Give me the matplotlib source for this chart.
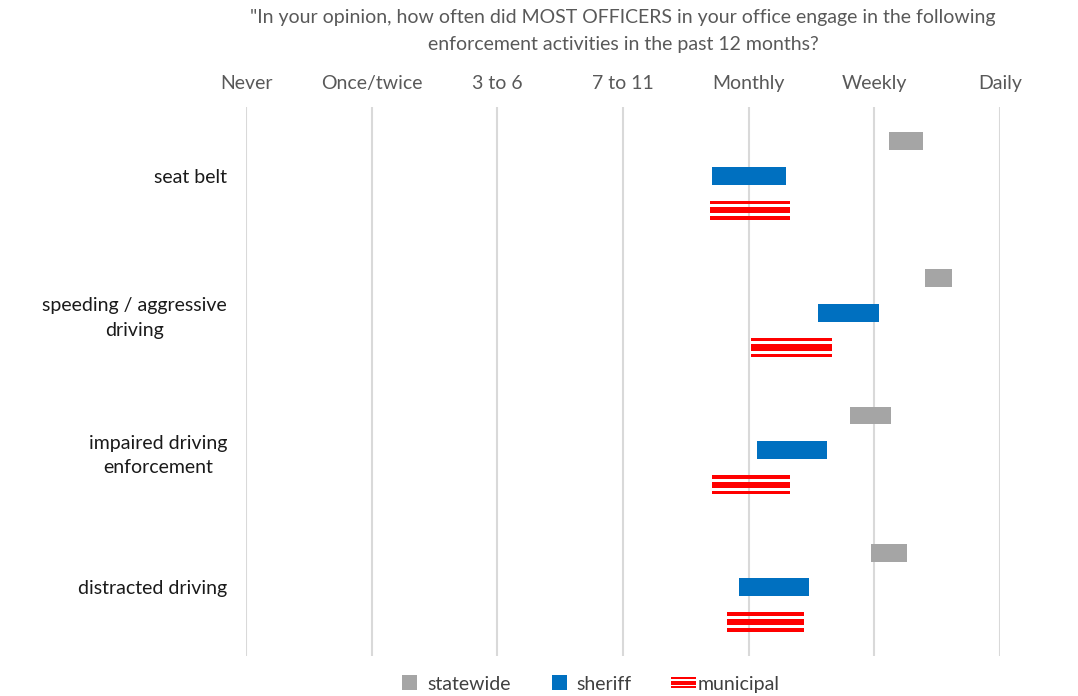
import matplotlib
matplotlib.use("Agg")
import matplotlib.pyplot as plt
from matplotlib.patches import Rectangle
from matplotlib.legend_handler import HandlerBase

plt.rcParams['font.family'] = ['Lato', 'DejaVu Sans']

title = '"In your opinion, how often did MOST OFFICERS in your office engage in the following\nenforcement activities in the past 12 months?'
freq_labels = ["Never", "Once/twice", "3 to 6", "7 to 11", "Monthly", "Weekly", "Daily"]
categories = ["seat belt", "speeding / aggressive\ndriving", "impaired driving\nenforcement", "distracted driving"]

statewide_lo = [5.12, 5.40, 4.81, 4.97]
statewide_hi = [5.39, 5.62, 5.13, 5.26]
sheriff_lo = [3.71, 4.55, 4.07, 3.92]
sheriff_hi = [4.30, 5.04, 4.62, 4.48]
municipal_lo = [3.69, 4.02, 3.71, 3.83]
municipal_hi = [4.33, 4.66, 4.33, 4.44]

GRAY = "#A5A5A5"
BLUE = "#0070C0"
RED = "#FF0000"
TXT = "#595959"
FS = 14

fig = plt.figure(figsize=(10.78, 6.96), dpi=100)
ax = fig.add_axes([246/1078, 1-656/696, (1000-246)/1078, (656-107)/696])

ypos = list(range(len(categories)))
bar_h = 0.13

ax.barh([y - 0.252 for y in ypos], [h - l for l, h in zip(statewide_lo, statewide_hi)],
        left=statewide_lo, height=bar_h, color=GRAY, zorder=3)
ax.barh(ypos, [h - l for l, h in zip(sheriff_lo, sheriff_hi)],
        left=sheriff_lo, height=bar_h, color=BLUE, zorder=3)
mw = [h - l for l, h in zip(municipal_lo, municipal_hi)]
ax.barh([y + 0.252 for y in ypos], mw, left=municipal_lo, height=0.046, color=RED, zorder=3)
ax.barh([y + 0.252 - 0.057 for y in ypos], mw, left=municipal_lo, height=0.026, color=RED, zorder=3)
ax.barh([y + 0.252 + 0.057 for y in ypos], mw, left=municipal_lo, height=0.026, color=RED, zorder=3)

ax.set_xlim(0, 6)
ax.set_ylim(3.5, -0.5)
ax.set_xticks(range(len(freq_labels)))
ax.set_xticklabels(freq_labels, fontsize=FS, color=TXT)
ax.xaxis.tick_top()
ax.tick_params(axis='x', length=0, pad=10.5)
ax.set_yticks(ypos)
ax.set_yticklabels(categories, fontsize=FS, color="#1a1a1a", linespacing=1.55)
for lab in ax.get_yticklabels():
    lab.set_multialignment('center')
ax.tick_params(axis='y', length=0, pad=13.5)
for s in ax.spines.values():
    s.set_visible(False)
ax.grid(axis='x', color="#D9D9D9", linewidth=1.5, zorder=0)
ax.set_axisbelow(True)

fig.text(623/1078, 1-31/696, title, ha='center', va='center', fontsize=FS,
         color=TXT, linespacing=1.65)


class SquareHandler(HandlerBase):
    def __init__(self, color):
        super().__init__()
        self.color = color

    def create_artists(self, legend, orig_handle, xdescent, ydescent, width, height, fontsize, trans):
        s = 15.0 * 72 / 100
        r = Rectangle((-xdescent + width - s - 6, -ydescent + (height - s) / 2), s, s,
                      facecolor=self.color, edgecolor='none', transform=trans)
        return [r]


class StripeHandler(HandlerBase):
    def create_artists(self, legend, orig_handle, xdescent, ydescent, width, height, fontsize, trans):
        p = 72 / 100
        arts = []
        y0 = -ydescent + (height - 11 * p) / 2
        for yy, hh in [(0, 2), (3.8, 3.4), (9, 2)]:
            arts.append(Rectangle((-xdescent, y0 + yy * p), width, hh * p,
                                  facecolor=RED, edgecolor='none', transform=trans))
        return arts


class H1: pass
class H2: pass
class H3: pass


handles = [H1(), H2(), H3()]
labels = ["statewide", "sheriff", "municipal"]
leg = fig.legend(handles, labels, loc='center', bbox_to_anchor=(590/1078, 1-684/696),
                 ncol=3, frameon=False, fontsize=FS, handlelength=1.3, handleheight=0.8,
                 handletextpad=0.1, columnspacing=2.0,
                 handler_map={H1: SquareHandler(GRAY), H2: SquareHandler(BLUE), H3: StripeHandler()})
for t in leg.get_texts():
    t.set_color("#404040")

fig.savefig("out.png", dpi=100)
